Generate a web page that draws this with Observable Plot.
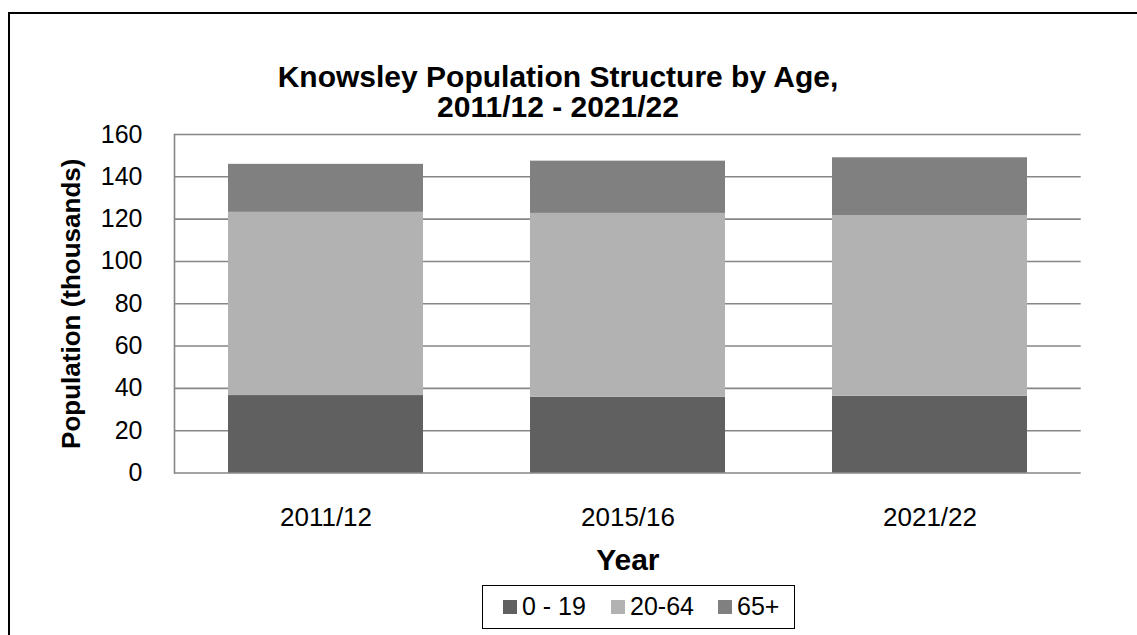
<!DOCTYPE html>
<html>
<head>
<meta charset="utf-8">
<script src="https://cdn.jsdelivr.net/npm/d3@7"></script>
<script src="https://cdn.jsdelivr.net/npm/@observablehq/plot@0.6"></script>
<style>
  html, body { margin: 0; padding: 0; background: #fff; }
  #chart {
    position: relative; width: 1137px; height: 635px; overflow: hidden;
    font-family: "Liberation Sans", Arial, sans-serif; color: #000;
  }
  #frame {
    position: absolute; left: 8px; top: 12px; width: 1200px; height: 700px;
    border-top: 2px solid #000; border-left: 2px solid #000; box-sizing: border-box;
  }
  #plot { position: absolute; left: 0; top: 0; }
  .title {
    position: absolute; left: 208px; width: 700px; height: 30px;
    text-align: center; font-weight: bold; font-size: 30px; line-height: 30px;
    white-space: nowrap;
  }
  #legend {
    position: absolute; left: 482px; top: 585px; width: 313px; height: 44px;
    border: 1.5px solid #000; box-sizing: border-box; font-size: 25px;
  }
  .item { position: absolute; top: 0; height: 41px; display: flex; align-items: center; }
  .sw { width: 14px; height: 14px; margin-right: 5px; }
</style>
</head>
<body>
<div id="chart">
  <div id="frame"></div>
  <div id="plot"></div>
  <div class="title" style="top: 62px;">Knowsley Population Structure by Age,</div>
  <div class="title" style="top: 92px;">2011/12 - 2021/22</div>
  <div id="legend"></div>
</div>
<script>
// Population of Knowsley (thousands) by broad age band
const years = ["2011/12", "2015/16", "2021/22"];
const ageBands = ["0 - 19", "20-64", "65+"];
const age0to19 = [36.6, 35.8, 36.3];
const age20to64 = [86.6, 86.9, 85.4];
const age65plus = [22.7, 24.7, 27.3];
const bandColors = ["#606060", "#b2b2b2", "#808080"];
const yTicks = [0, 20, 40, 60, 80, 100, 120, 140, 160];

const series = [age0to19, age20to64, age65plus];
const rows = [];
ageBands.forEach((band, i) => {
  years.forEach((year, j) => rows.push({year, band, value: series[i][j]}));
});

const chart = Plot.plot({
  width: 1137,
  height: 635,
  marginTop: 134,
  marginBottom: 162.5,
  marginLeft: 174,
  marginRight: 56.3,
  style: {fontFamily: "'Liberation Sans', Arial, sans-serif", fontSize: "25px", background: "transparent", color: "#000"},
  x: {domain: years, paddingInner: 0.354, paddingOuter: 0.177, label: null},
  y: {domain: [0, 160], label: null},
  color: {domain: ageBands, range: bandColors},
  marks: [
    Plot.ruleY(yTicks, {stroke: "#868686", strokeWidth: 1.6}),
    Plot.frame({anchor: "left", stroke: "#868686", strokeWidth: 1.6}),
    Plot.barY(rows, {x: "year", y: "value", fill: "band"}),
    Plot.axisY({ticks: yTicks, tickSize: 0, tickPadding: 32, fontSize: 25, label: null}),
    Plot.axisX({tickSize: 0, tickPadding: 44.5, lineAnchor: "middle", fontSize: 26, label: null}),
    Plot.text(["Population (thousands)"], {frameAnchor: "left", textAnchor: "middle", rotate: -90, dx: -103, fontWeight: "bold", fontSize: 26}),
    Plot.text(["Year"], {frameAnchor: "bottom", lineAnchor: "middle", dy: 87.5, fontWeight: "bold", fontSize: 30})
  ]
});
document.getElementById("plot").appendChild(chart);

// Legend: swatch + label for each age band
const legend = document.getElementById("legend");
const itemLefts = [20, 128, 235];
ageBands.forEach((band, i) => {
  const item = document.createElement("div");
  item.className = "item";
  item.style.left = itemLefts[i] + "px";
  const sw = document.createElement("div");
  sw.className = "sw";
  sw.style.background = bandColors[i];
  const label = document.createElement("span");
  label.textContent = band;
  item.appendChild(sw);
  item.appendChild(label);
  legend.appendChild(item);
});
</script>
</body>
</html>
